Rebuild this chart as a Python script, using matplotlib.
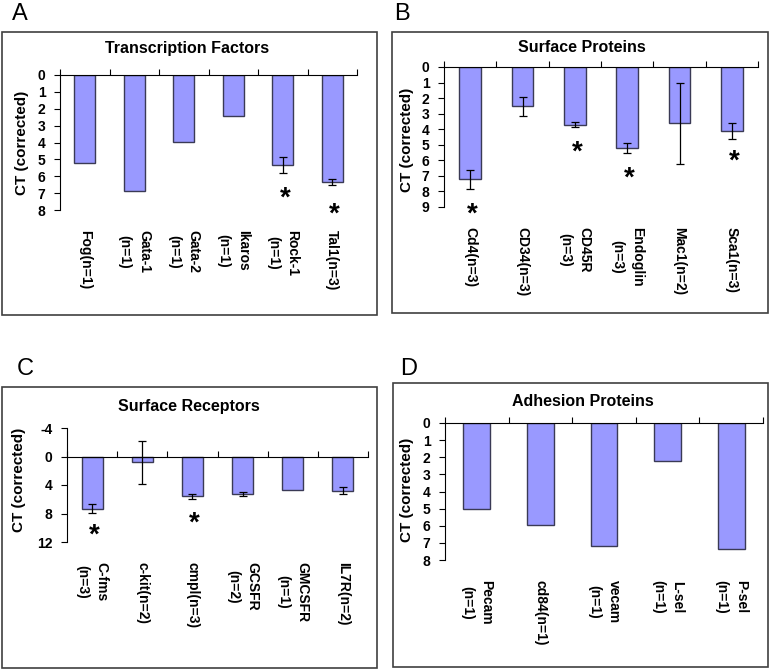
import matplotlib.pyplot as plt
from matplotlib.patches import Rectangle

plt.rcParams['font.family'] = ['Liberation Sans', 'DejaVu Sans']

W, H = 773, 669

# A - Transcription Factors
tf_labels = ['Fog(n=1)', 'Gata-1\n(n=1)', 'Gata-2\n(n=1)', 'Ikaros\n(n=1)', 'Rock-1\n(n=1)', 'Tal1(n=3)']
tf_values = [5.22, 6.86, 3.97, 2.42, 5.35, 6.32]
tf_errors = [0, 0, 0, 0, 0.48, 0.17]
tf_stars = [None, None, None, None, 6.98, 7.9]

# B - Surface Proteins
sp_labels = ['Cd4(n=3)', 'CD34(n=3)', 'CD45R\n(n=3)', 'Endoglin\n(n=3)', 'Mac1(n=2)', 'Sca1(n=3)']
sp_values = [7.22, 2.52, 3.7, 5.22, 3.62, 4.13]
sp_errors = [0.6, 0.62, 0.17, 0.33, 2.6, 0.5]
sp_stars = [9.1, None, 5.1, 6.75, None, 5.67]

# C - Surface Receptors
sr_labels = ['C-fms\n(n=3)', 'c-kit(n=2)', 'cmpl(n=3)', 'GCSFR\n(n=2)', 'GMCSFR\n(n=1)', 'IL7R(n=2)']
sr_values = [7.3, 0.8, 5.58, 5.22, 4.65, 4.8]
sr_errors = [0.58, 3.0, 0.35, 0.3, 0, 0.5]
sr_stars = [10.2, None, 8.5, None, None, None]

# D - Adhesion Proteins
ap_labels = ['Pecam\n(n=1)', 'cd84(n=1)', 'vecam\n(n=1)', 'L-sel\n(n=1)', 'P-sel\n(n=1)']
ap_values = [5.01, 5.95, 7.16, 2.19, 7.36]
ap_errors = [0, 0, 0, 0, 0]
ap_stars = [None, None, None, None, None]

fig = plt.figure(figsize=(W / 100, H / 100), dpi=100)
fig.patch.set_facecolor('white')


def px_rect(l, t, r, b):
    return [l / W, 1 - b / H, (r - l) / W, (b - t) / H]


def panel(box, axbox, letter, letter_xy, title, title_xy, ylab_xy,
          labels, values, errors, stars, yticks):
    l, t, r, b = box
    fig.patches.append(Rectangle((l / W, 1 - b / H), (r - l) / W, (b - t) / H,
                                 transform=fig.transFigure, fill=False,
                                 edgecolor='#404040', linewidth=1.2))
    fig.text(letter_xy[0] / W, 1 - letter_xy[1] / H, letter, fontsize=17,
             ha='left', va='center')
    fig.text(title_xy[0] / W, 1 - title_xy[1] / H, title, fontsize=11.5,
             fontweight='bold', ha='center', va='center')
    fig.text(ylab_xy[0] / W, 1 - ylab_xy[1] / H, 'CT (corrected)', fontsize=11,
             fontweight='bold', ha='center', va='center', rotation=90)

    ax = fig.add_axes(px_rect(*axbox))
    # x axis line sits at CT = 0 (set before ticks: this resets them)
    ax.spines['top'].set_position(('data', 0))
    ax.spines['right'].set_visible(False)
    ax.spines['bottom'].set_visible(False)
    for sp in ('top', 'left'):
        ax.spines[sp].set_linewidth(0.8)

    x = list(range(len(values)))
    ax.bar(x, values, width=0.42, color='#9999ff', edgecolor='#3a3a55',
           linewidth=1, zorder=2)
    ex = [i for i in x if errors[i] > 0]
    if ex:
        ax.errorbar(ex, [values[i] for i in ex], yerr=[errors[i] for i in ex],
                    fmt='none', ecolor='black', elinewidth=0.9, capsize=3,
                    capthick=0.9, zorder=3)
    for i, s in enumerate(stars):
        if s is not None:
            ax.annotate('*', (i, s), xytext=(1.5, -4.5), textcoords='offset points',
                        fontsize=20, fontweight='bold', ha='center', va='center',
                        annotation_clip=False)

    ax.set_xlim(-0.5, len(values) - 0.5)
    ax.set_ylim(yticks[-1], yticks[0])
    ax.set_xticks(x)
    ax.set_xticks([i - 0.5 for i in range(len(values) + 1)], minor=True)
    ax.set_yticks(yticks)
    ax.tick_params(axis='x', which='major', bottom=False, top=False, pad=11)
    ax.tick_params(axis='x', which='minor', bottom=False, top=True,
                   direction='out', length=4, width=0.8)
    ax.tick_params(axis='y', direction='out', length=4.5, width=0.8, pad=6)
    ax.set_yticklabels([str(v) for v in yticks], fontweight='bold', fontsize=10)
    ax.set_xticklabels(labels, rotation=270, fontweight='bold', fontsize=10,
                       va='top', ha='center', linespacing=1.5)
    ax.patch.set_alpha(0)
    return ax


panel((2, 32, 377, 315), (60, 75, 357, 210), 'A', (12, 14),
      'Transcription Factors', (187, 48), (22, 143),
      tf_labels, tf_values, tf_errors, tf_stars, list(range(0, 9)))

panel((392, 32, 768, 313), (444, 67, 758, 207), 'B', (394, 14),
      'Surface Proteins', (582, 48), (407, 140),
      sp_labels, sp_values, sp_errors, sp_stars, list(range(0, 10)))

panel((2, 387, 377, 668), (67, 428, 368, 542), 'C', (17, 369),
      'Surface Receptors', (189, 406), (19, 480),
      sr_labels, sr_values, sr_errors, sr_stars, [-4, 0, 4, 8, 12])

panel((393, 383, 768, 667), (445, 423, 763, 560), 'D', (400, 369),
      'Adhesion Proteins', (583, 402), (407, 490),
      ap_labels, ap_values, ap_errors, ap_stars, list(range(0, 9)))

fig.savefig('out.png', dpi=100, facecolor='white')
